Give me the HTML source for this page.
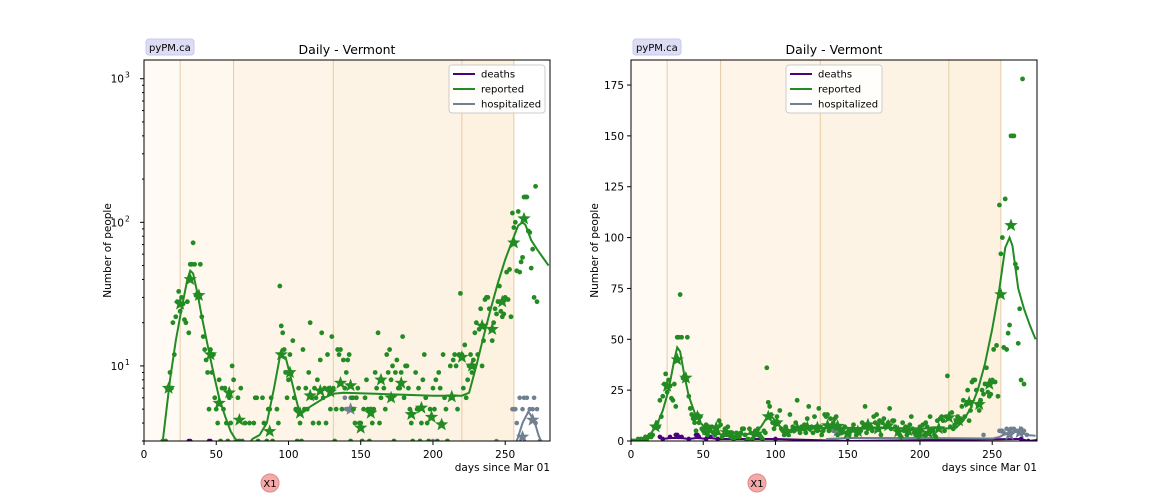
<!DOCTYPE html>
<html><head><meta charset="utf-8"><style>
html,body{margin:0;background:#fff;width:1152px;height:504px;overflow:hidden;}
svg{display:block;font-family:"DejaVu Sans","Liberation Sans",sans-serif;}
</style></head><body>
<svg id="chart" width="1152" height="504" viewBox="0 0 1152 504" xmlns="http://www.w3.org/2000/svg"></svg>
<script>
// ---- data ----
const modelDays = [0,5,10,13,18,22,26,30,32,34,37,40,44,48,52,56,60,65,70,75,80,85,90,94,98,102,105,108,115,125,131,138,160,180,200,220,225,230,235,240,245,250,255,259,262,264,268,272,276,280];
const modelReported = [0.3,0.6,1.5,3,8,15,25,40,46,44,32,22,14,9,6,4.5,3.5,2.9,2.6,3.1,3.3,4,7,11.5,11.5,8,6,4.6,5.2,6,6.4,6.5,6.4,6.3,6.2,6.2,6.5,10,16,25,38,55,75,95,100,96,75,65,57,50];
const dailyReported = [
0,0,0,0,0,1,0,1,0,1,
2,1,2,3,2,3,7,7,9,7,
20,12,22,28,33,24,30,27,21,20,
28,17,51,51,72,51,31,32,30,51,
22,16,13,11,9,5,13,9,12,6,
5,4,8,3,7,5,7,4,3,6,
4,10,8,2,3,6,3,7,3,2,
4,1,2,4,2,2,4,6,6,3,
0,1,6,4,1,3,5,5,6,3,
2,1,5,4,36,19,17,13,9,6,
8,12,9,15,6,5,3,7,4,3,
13,5,7,5,9,20,6,4,7,6,
8,4,11,17,6,7,4,12,7,5,
16,7,3,5,13,12,13,5,11,7,
9,11,12,3,6,5,4,6,7,4,
4,3,5,6,8,5,3,5,4,5,
9,7,17,4,6,8,7,5,12,9,
13,8,10,3,9,11,7,7,9,16,
6,10,10,7,5,4,3,2,9,5,
7,3,4,8,12,6,4,3,5,2,
7,5,8,3,9,7,4,12,6,5,
3,2,10,6,11,12,10,5,12,32,
12,7,14,6,8,10,12,9,11,17,
20,12,18,25,10,15,29,30,30,25,
18,15,20,25,23,28,36,24,22,23,
30,45,29,47,22,116,92,100,46,119,
45,53,57,150,150,150,87,85,48,65,
30,178,28];
const weekDays = [17,25,32,38,46,52,59,66,87,95,101,108,115,122,129,136,143,150,157,164,171,178,185,192,199,206,213,220,227,234,241,248,256,263];
const weekReported = [7,27,40,31,12,5.5,6.5,4.2,3.5,12,9,4.7,6.2,6.7,6.6,7.6,7.3,3.7,4.7,8,6,7.6,4.6,5.1,4.4,3.9,6.1,11.5,10,19,18,28,72,106];
const hospDays = [137,139,140,141,142,143,144,145,200,244,255,256,257,258,260,262,263,265,267,269,270,271,272,274];
const hospValues = [5,6,5,5,5,6,6,6,3,3,5,5,5,4,6,5,6,6,5,5,6,4,5,3];
const hospModelDays = [135,150,200,250,255,258,262,266,270,273,276,280];
const hospModel = [1,1.5,1.5,1.2,2,3,4,4.8,4.2,3.3,2.8,2.6];
const hospWeekDays = [143,262,269];
const hospWeek = [5,3.2,4.2];
const deathDays = [20,22,27,31,32,33,35,40,45,46,47,52,53,55,60,100,150,270,275];
const deathValues = [2,1,2,3,3,2,2,1,3,3,2,1,2,2,1,1,0,1,0];
const bands = [0,25,62,131,220,256];
const bandFill = ['#fffaf3','#fff8ef','#fef5e8','#fdf3e5','#fdf1e0'];

const svg = document.getElementById('chart');
const NS = 'http://www.w3.org/2000/svg';
function mk(tag, attrs, parent){const e=document.createElementNS(NS,tag);for(const k in attrs)e.setAttribute(k,attrs[k]);(parent||svg).appendChild(e);return e;}
function star(cx,cy,r){let p=[];for(let i=0;i<10;i++){const a=-Math.PI/2+i*Math.PI/5;const rr=i%2?r*0.42:r;p.push((cx+rr*Math.cos(a)).toFixed(1)+','+(cy+rr*Math.sin(a)).toFixed(1));}return p.join(' ');}

function panel(o){
  const g = mk('g',{});
  
  
  const X = d => o.x0 + (d - 0) / 281 * (o.x1 - o.x0);
  const Y = o.log ? (v => o.y1 - (Math.log10(v) - Math.log10(3)) / (Math.log10(1350) - Math.log10(3)) * (o.y1 - o.y0))
                  : (v => o.y1 - v / 187.3 * (o.y1 - o.y0));
  const cv = v => o.log ? Math.max(v, 2.2) : v;
  const cid = 'clip' + o.name;
  const cp = mk('clipPath',{id:cid},g); mk('rect',{x:o.x0,y:o.y0,width:o.x1-o.x0,height:o.y1-o.y0},cp);
  const plot = mk('g',{'clip-path':'url(#'+cid+')'},g);
  for(let i=0;i<bandFill.length;i++){
    const b = mk('rect',{x:X(bands[i]),y:o.y0,width:X(bands[i+1])-X(bands[i]),height:o.y1-o.y0,fill:bandFill[i]},plot);
    
    
    if(i>0){const l=mk('line',{x1:X(bands[i]),x2:X(bands[i]),y1:o.y0,y2:o.y1,stroke:'#e6cba6','stroke-width':1},plot);
      
      }
  }
  const l5=mk('line',{x1:X(bands[5]),x2:X(bands[5]),y1:o.y0,y2:o.y1,stroke:'#e6cba6','stroke-width':1},plot);
  
  
  if(!o.log){
    const dl=mk('polyline',{points:deathDays.map((d,i)=>X(d)+','+Y(Math.min(deathValues[i],1.5))).join(' ')+' '+X(281)+','+Y(0.5),fill:'none',stroke:'#4b0082','stroke-width':2},plot);
    
    
  }
  deathDays.forEach((d,i)=>{const c=mk('circle',{cx:X(d),cy:Y(cv(deathValues[i]||0.01)),r:2.3,fill:'#4b0082'},plot);
    
    });
  const hl=mk('polyline',{points:hospModelDays.map((d,i)=>X(d)+','+Y(hospModel[i])).join(' '),fill:'none',stroke:'#708090','stroke-width':2},plot);
  
  
  hospDays.forEach((d,i)=>{const c=mk('circle',{cx:X(d),cy:Y(cv(hospValues[i])),r:2.3,fill:'#708090'},plot);
    
    });
  hospWeekDays.forEach((d,i)=>{const s=mk('polygon',{points:star(X(d),Y(hospWeek[i]),7),fill:'#708090'},plot);
    
    });
  dailyReported.forEach((v,d)=>{const c=mk('circle',{cx:X(d),cy:Y(cv(v)),r:2.4,fill:'#228b22'},plot);
    
    });
  const rl=mk('polyline',{points:modelDays.map((d,i)=>X(d)+','+Y(modelReported[i])).join(' '),fill:'none',stroke:'#228b22','stroke-width':2},plot);
  
  
  weekDays.forEach((d,i)=>{const s=mk('polygon',{points:star(X(d),Y(weekReported[i]),7),fill:'#228b22'},plot);
    
    });
  const fr=mk('rect',{x:o.x0,y:o.y0,width:o.x1-o.x0,height:o.y1-o.y0,fill:'none',stroke:'#000','stroke-width':1},g);
  
  
  [0,50,100,150,200,250].forEach(t=>{mk('line',{x1:X(t),x2:X(t),y1:o.y1,y2:o.y1+4,stroke:'#000'},g);
    const tx=mk('text',{x:X(t),y:o.y1+17,'font-size':10.5,'text-anchor':'middle'},g);tx.textContent=t;
    
    });
  const xt=mk('text',{x:o.x1,y:o.y1+30,'font-size':10.5,'text-anchor':'end'},g);xt.textContent='days since Mar 01';
  
  
  if(o.log){
    [10,100,1000].forEach((t,i)=>{const y=Y(t);mk('line',{x1:o.x0-4,x2:o.x0,y1:y,y2:y,stroke:'#000'},g);
      const tx=mk('text',{x:o.x0-20,y:y+4,'font-size':10.5,'text-anchor':'end'},g);tx.textContent='10';
      
      
      const sp=mk('text',{x:o.x0-19,y:y-1,'font-size':7.5},g);sp.textContent=String(i+1);});
    [3,4,5,6,7,8,9,20,30,40,50,60,70,80,90,200,300,400,500,600,700,800,900].forEach(v=>{const y=Y(v);mk('line',{x1:o.x0-2,x2:o.x0,y1:y,y2:y,stroke:'#000'},g);});
  } else {
    [0,25,50,75,100,125,150,175].forEach(t=>{const y=Y(t);mk('line',{x1:o.x0-4,x2:o.x0,y1:y,y2:y,stroke:'#000'},g);
      const tx=mk('text',{x:o.x0-7,y:y+4,'font-size':10.5,'text-anchor':'end'},g);tx.textContent=t;
      
      });
  }
  const yt=mk('text',{x:0,y:0,'font-size':10.5,'text-anchor':'middle',transform:'translate('+(o.x0-33)+','+((o.y0+o.y1)/2)+') rotate(-90)'},g);yt.textContent='Number of people';
  
  
  const ti=mk('text',{x:(o.x0+o.x1)/2,y:o.y0-6,'font-size':12.5,'text-anchor':'middle'},g);ti.textContent='Daily - Vermont';
  
  
  const bx=mk('rect',{x:o.x0+2,y:o.y0-21,width:48,height:16,rx:3,fill:'#dcdcf5',stroke:'#c8c8ee'},g);
  
  
  const bt=mk('text',{x:o.x0+5,y:o.y0-9,'font-size':10},g);bt.textContent='pyPM.ca';
  const lg=mk('g',{},g);
  
  
  mk('rect',{x:o.lx,y:o.y0+5,width:96,height:48,rx:3,fill:'#fff','fill-opacity':0.85,stroke:'#ccc'},lg);
  [['deaths','#4b0082'],['reported','#228b22'],['hospitalized','#708090']].forEach((e,i)=>{
    const y=o.y0+14+i*15;
    mk('line',{x1:o.lx+4,x2:o.lx+26,y1:y,y2:y,stroke:e[1],'stroke-width':2},lg);
    const t=mk('text',{x:o.lx+32,y:y+3.5,'font-size':10},lg);t.textContent=e[0];
    
    
  });
  const xc=mk('circle',{cx:o.xb,cy:483,r:9,fill:'#f5a9a9',stroke:'#d88'},g);
  
  
  const xtx=mk('text',{x:o.xb,y:487,'font-size':10,'text-anchor':'middle'},g);xtx.textContent='X1';
}
panel({name:'log-panel',x0:144,x1:550,y0:60,y1:441,log:true,lx:449,xb:270});
panel({name:'linear-panel',x0:631,x1:1037,y0:60,y1:441,log:false,lx:786,xb:757});
</script>
</body></html>
